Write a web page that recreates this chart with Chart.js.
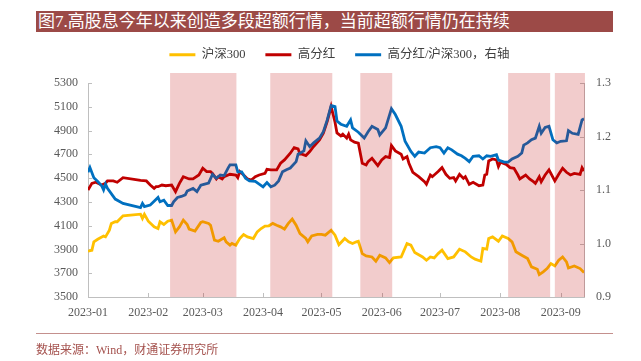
<!DOCTYPE html>
<html><head><meta charset="utf-8">
<script src="https://cdn.jsdelivr.net/npm/chart.js@4.4.0/dist/chart.umd.min.js"></script>
<style>
html,body{margin:0;padding:0;background:#fff;}
#wrap{position:relative;width:641px;height:361px;overflow:hidden;background:#fff;}
#c{position:absolute;left:0;top:0;}
#title{position:absolute;left:36px;top:11px;width:577px;height:21px;background:#9C4A47;color:#fff;font:17px "Liberation Serif","Noto Sans CJK SC",serif;line-height:21px;padding-left:2px;box-sizing:border-box;white-space:nowrap;}
#rule{position:absolute;left:36px;top:333px;width:577px;height:1px;background:#C4908D;}
#src{position:absolute;left:36px;top:340px;font:12px "Liberation Serif","Noto Sans CJK SC",serif;color:#A5524E;white-space:nowrap;}
</style></head>
<body><div id="wrap"><canvas id="c" width="641" height="361"></canvas>
<div id="title">图7.高股息今年以来创造多段超额行情，当前超额行情仍在持续</div>
<div id="rule"></div>
<div id="src">数据来源：Wind，财通证券研究所</div></div>
<script>
// x values: days since 2023-01-01
const monthTickDays = [2, 33, 61, 92, 122, 153, 183, 214, 245];
const monthTickLabels = ['2023-01','2023-02','2023-03','2023-04','2023-05','2023-06','2023-07','2023-08','2023-09'];

const hs300Days = [2,4,5,7,10,11,13,14,16,17,20,29,30,31,33,36,38,39,41,43,45,47,49,51,53,54,57,60,61,64,65,67,69,72,73,75,76,78,80,82,84,87,89,91,93,95,97,99,101,103,105,107,109,111,114,115,117,120,122,124,127,129,131,134,136,138,140,141,143,145,148,150,152,155,157,159,163,166,168,170,174,176,178,180,182,184,187,190,193,196,199,201,204,205,207,208,210,213,215,218,220,222,225,228,230,233,234,236,238,240,242,244,246,248,249,252,255,257];
const hs300Values = [3885,3893,3964,3986,4012,4006,4062,4119,4133,4133,4183,4197,4161,4195,4138,4090,4076,4133,4110,4138,4147,4048,4090,4147,4110,4071,4054,4127,4133,4119,4104,3978,3969,3998,3964,3936,3950,3936,3992,4026,4006,3992,4048,4076,4096,4099,4119,4104,4090,4071,4119,4155,4104,4034,3992,3964,4014,4026,4026,4020,4062,4020,3940,3992,3964,3950,3964,3969,3865,3846,3837,3801,3851,3829,3789,3829,3837,3950,3936,3874,3837,3809,3837,3829,3865,3894,3823,3837,3902,3880,3837,3818,3801,3908,3902,3992,4006,3969,4014,3992,3964,3880,3851,3823,3753,3733,3688,3711,3739,3781,3761,3809,3837,3795,3744,3761,3739,3705];

const hdDays = [2,4,6,9,11,12,15,17,20,29,32,34,36,37,38,40,42,45,47,49,51,54,56,59,61,63,65,66,68,69,71,72,75,78,79,80,82,84,86,88,90,93,94,96,99,101,103,106,108,110,111,112,114,116,118,121,123,125,127,129,130,132,133,135,136,137,139,141,143,145,146,148,151,153,155,157,158,160,163,164,166,167,169,172,175,176,178,179,182,184,186,188,190,191,193,195,196,198,200,203,205,206,207,208,210,212,213,214,217,219,221,223,224,227,229,231,232,234,235,237,239,242,244,246,248,250,252,255,256,257];
const hdValues = [4400,4456,4465,4442,4456,4476,4476,4465,4504,4481,4476,4442,4414,4428,4428,4442,4436,4442,4386,4456,4512,4493,4493,4526,4583,4555,4555,4540,4493,4512,4493,4512,4532,4526,4504,4555,4526,4493,4484,4512,4526,4540,4574,4569,4569,4625,4653,4709,4757,4746,4701,4701,4690,4723,4766,4822,4878,4977,5103,4970,4880,4855,4870,4836,4870,4822,4802,4794,4625,4611,4639,4667,4605,4653,4681,4673,4774,4729,4701,4661,4681,4625,4549,4512,4470,4448,4526,4512,4555,4588,4532,4498,4504,4476,4532,4498,4512,4448,4465,4436,4442,4526,4532,4645,4661,4653,4597,4633,4616,4588,4583,4526,4493,4526,4493,4470,4456,4512,4470,4526,4569,4476,4532,4583,4549,4526,4540,4532,4588,4560];

const ratioDays = [2,3,5,7,9,10,11,12,16,18,20,29,30,31,34,36,38,39,41,43,45,46,48,50,52,53,56,58,60,62,64,66,68,70,72,74,75,78,79,81,83,85,88,90,92,94,96,98,100,102,104,106,109,110,113,114,116,118,121,123,125,127,129,130,132,135,137,138,141,144,146,148,151,152,155,158,160,163,165,168,170,172,175,178,181,183,185,187,189,192,194,196,198,200,203,205,207,209,212,213,216,218,220,223,225,226,228,230,232,233,234,235,237,239,241,243,245,248,249,251,254,256,257];
const ratioValues = [1.133,1.142,1.123,1.116,1.108,1.100,1.111,1.103,1.083,1.079,1.075,1.067,1.075,1.069,1.072,1.079,1.086,1.078,1.081,1.071,1.071,1.078,1.086,1.088,1.091,1.098,1.103,1.097,1.109,1.111,1.113,1.129,1.122,1.128,1.127,1.141,1.147,1.147,1.134,1.134,1.122,1.117,1.116,1.111,1.106,1.114,1.106,1.109,1.117,1.134,1.138,1.141,1.153,1.167,1.173,1.192,1.181,1.188,1.197,1.209,1.231,1.258,1.256,1.229,1.223,1.219,1.231,1.216,1.208,1.197,1.209,1.219,1.213,1.203,1.216,1.252,1.241,1.219,1.191,1.172,1.163,1.171,1.169,1.179,1.181,1.179,1.169,1.179,1.175,1.167,1.164,1.159,1.153,1.163,1.164,1.158,1.164,1.163,1.166,1.156,1.152,1.152,1.158,1.163,1.169,1.184,1.188,1.194,1.197,1.208,1.219,1.206,1.217,1.219,1.194,1.188,1.191,1.192,1.211,1.206,1.204,1.231,1.233];

// shaded excess-return periods (days since 2023-01-01)
const bandStarts = [44.2, 95.7, 142, 218, 242];
const bandEnds = [78.3, 127.6, 158.4, 239.6, 257.5];

const seriesNames = ['沪深300', '高分红', '高分红/沪深300，右轴'];

const pairs = (d, v) => d.map((x, i) => ({x: x, y: v[i]}));

Chart.defaults.font.family = '"Liberation Serif","Noto Sans CJK SC",serif';

const bandPlugin = {
  id: 'bands',
  afterDatasetsDraw(chart) {
    const {ctx, chartArea, scales} = chart;
    const xs = scales.x;
    ctx.save();
    ctx.fillStyle = 'rgba(192,0,0,0.2)';
    bandStarts.forEach((s, i) => {
      const x0 = xs.getPixelForValue(s);
      const x1 = xs.getPixelForValue(bandEnds[i]);
      ctx.fillRect(x0, chartArea.top - 10, x1 - x0, chartArea.bottom - chartArea.top + 10);
    });
    ctx.restore();
  }
};

const tickPlugin = {
  id: 'innerTicks',
  beforeDatasetsDraw(chart) {
    const {ctx, chartArea: a, scales} = chart;
    ctx.save();
    ctx.strokeStyle = '#BFBFBF';
    ctx.lineWidth = 1;
    ctx.beginPath();
    scales.y.ticks.forEach(t => { const p = Math.round(scales.y.getPixelForValue(t.value)) + 0.5; ctx.moveTo(a.left, p); ctx.lineTo(a.left + 4, p); });
    scales.y1.ticks.forEach(t => { const p = Math.round(scales.y1.getPixelForValue(t.value)) + 0.5; ctx.moveTo(a.right - 4, p); ctx.lineTo(a.right, p); });
    scales.x.ticks.forEach(t => { const p = Math.round(scales.x.getPixelForValue(t.value)) + 0.5; ctx.moveTo(p, a.bottom); ctx.lineTo(p, a.bottom - 4); });
    ctx.stroke();
    ctx.restore();
  }
};

const legendGap = {
  id: 'legendGap',
  beforeLayout(chart) {
    const lg = chart.legend;
    if (lg && !lg._gapPatched) {
      const orig = lg.fit;
      lg.fit = function () { orig.call(this); this.height += 12; };
      lg._gapPatched = true;
    }
  }
};

new Chart(document.getElementById('c'), {
  type: 'line',
  data: {
    datasets: [
      {label: seriesNames[0], data: pairs(hs300Days, hs300Values), borderColor: '#FFC000', backgroundColor: '#FFC000', borderWidth: 2.8, pointRadius: 0, yAxisID: 'y', order: 3},
      {label: seriesNames[1], data: pairs(hdDays, hdValues), borderColor: '#C00000', backgroundColor: '#C00000', borderWidth: 2.8, pointRadius: 0, yAxisID: 'y', order: 2},
      {label: seriesNames[2], data: pairs(ratioDays, ratioValues), borderColor: '#0070C0', backgroundColor: '#0070C0', borderWidth: 2.8, pointRadius: 0, yAxisID: 'y1', order: 1}
    ]
  },
  options: {
    responsive: false,
    animation: false,
    devicePixelRatio: 1,
    layout: {padding: {left: 38, right: 0, top: 28.5, bottom: 0}},
    plugins: {
      legend: {
        position: 'top',
        labels: {
          boxWidth: 26, boxHeight: 3, padding: 20, color: '#404040',
          font: {size: 12.5},
          sort: (a, b) => a.datasetIndex - b.datasetIndex,
          generateLabels(chart) {
            return Chart.defaults.plugins.legend.labels.generateLabels(chart)
              .map(l => Object.assign({}, l, {fillStyle: l.strokeStyle, lineWidth: 0}));
          }
        }
      },
      tooltip: {enabled: false}
    },
    scales: {
      x: {
        type: 'linear', min: 2, max: 257,
        grid: {display: false, drawTicks: false},
        border: {display: true, color: '#BFBFBF'},
        afterBuildTicks(s) { s.ticks = monthTickDays.map(v => ({value: v})); },
        ticks: {autoSkip: false, maxRotation: 0, padding: 9, color: '#595959', font: {size: 12},
          callback(v, i) { return monthTickLabels[i]; }},
        afterFit(s) { s.height = 64; }
      },
      y: {
        position: 'left', min: 3500, max: 5300,
        grid: {display: false, drawTicks: false},
        border: {display: true, color: '#BFBFBF'},
        ticks: {stepSize: 200, padding: 10, color: '#595959', font: {size: 12},
          callback(v) { return String(Math.round(v)); }},
        afterFit(s) { s.width = 50; }
      },
      y1: {
        position: 'right', min: 0.9, max: 1.3,
        grid: {display: false, drawTicks: false},
        border: {display: true, color: '#BFBFBF'},
        ticks: {stepSize: 0.1, padding: 12, color: '#595959', font: {size: 12},
          callback(v) { return Number(v).toFixed(1); }},
        afterFit(s) { s.width = 57; }
      }
    }
  },
  plugins: [bandPlugin, tickPlugin, legendGap]
});
</script>
</body></html>
